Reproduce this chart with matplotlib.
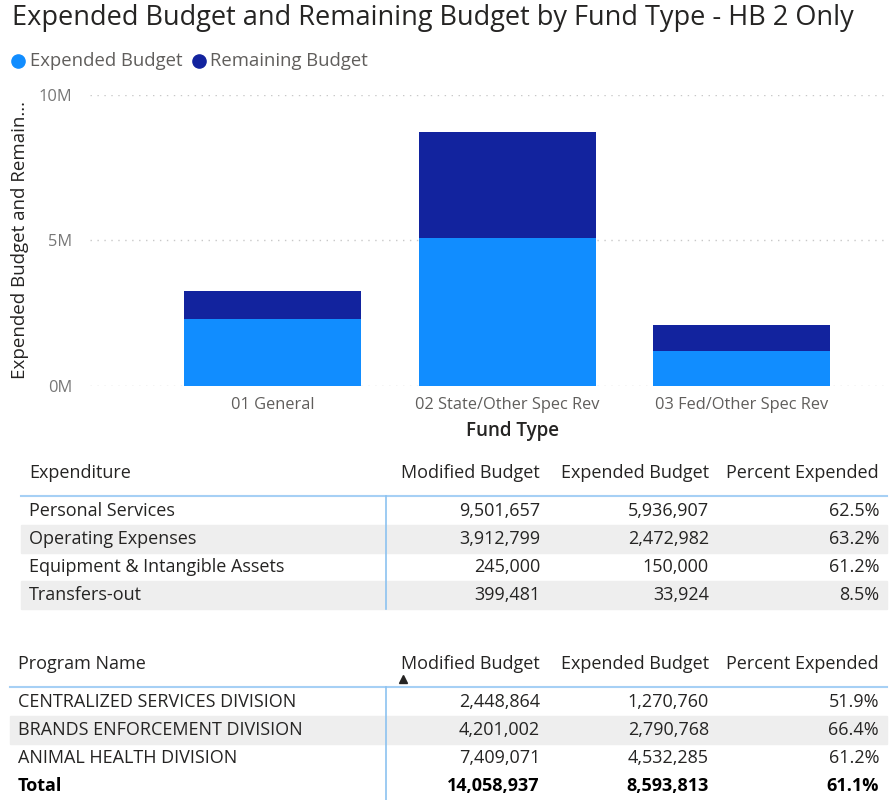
import numpy as np
import matplotlib
matplotlib.use("Agg")
import matplotlib.pyplot as plt
from matplotlib.patches import Rectangle
from matplotlib.lines import Line2D

plt.rcParams["font.family"] = ["Open Sans", "DejaVu Sans"]

# Chart data (millions)
fund_types = ["01 General", "02 State/Other Spec Rev", "03 Fed/Other Spec Rev"]
expended = [2.30, 5.09, 1.21]
remaining = [0.96, 3.64, 0.88]
series_names = ["Expended Budget", "Remaining Budget"]
yticks = [0, 5, 10]
ytick_labels = ["0M", "5M", "10M"]

# Expenditure table
exp_cols = ["Expenditure", "Modified Budget", "Expended Budget", "Percent Expended"]
exp_names = ["Personal Services", "Operating Expenses",
             "Equipment & Intangible Assets", "Transfers-out"]
exp_modified = ["9,501,657", "3,912,799", "245,000", "399,481"]
exp_expended = ["5,936,907", "2,472,982", "150,000", "33,924"]
exp_pct = ["62.5%", "63.2%", "61.2%", "8.5%"]

# Program table
prog_cols = ["Program Name", "Modified Budget", "Expended Budget", "Percent Expended"]
prog_names = ["CENTRALIZED SERVICES DIVISION", "BRANDS ENFORCEMENT DIVISION",
              "ANIMAL HEALTH DIVISION"]
prog_modified = ["2,448,864", "4,201,002", "7,409,071"]
prog_expended = ["1,270,760", "2,790,768", "4,532,285"]
prog_pct = ["51.9%", "66.4%", "61.2%"]
total_row = ["Total", "14,058,937", "8,593,813", "61.1%"]

c_exp = "#118DFF"
c_rem = "#12239E"
dark = "#252423"
grey = "#605E5C"

W, H = 891, 800
fig = plt.figure(figsize=(W / 100, H / 100), dpi=100)

# Bar chart
ax = fig.add_axes([90 / W, (H - 386) / H, (887 - 90) / W, (386 - 94.7) / H])
x = np.arange(len(fund_types))
ax.bar(x, expended, width=0.755, color=c_exp, zorder=2)
ax.bar(x, remaining, width=0.755, bottom=expended, color=c_rem, zorder=2)
ax.set_ylim(0, 10)
ax.set_xlim(-0.78, 2.62)
ax.set_yticks(yticks)
ax.set_yticklabels(ytick_labels, color="#777777", fontsize=11.8)
ax.set_xticks(x)
ax.set_xticklabels(fund_types, color=grey, fontsize=11.8)
ax.tick_params(length=0)
ax.tick_params(axis="x", pad=8)
ax.tick_params(axis="y", pad=13)
ax.grid(axis="y", color="#c8c8c8", linestyle=(0, (1, 4)), linewidth=1, zorder=0)
for s in ax.spines.values():
    s.set_visible(False)
ax.set_xlabel("Fund Type", color=dark, fontsize=13.5, fontweight="semibold")
ax.xaxis.set_label_coords((513 - 90) / (887 - 90), -(421 - 386) / (386 - 94.7))
ax.set_ylabel("Expended Budget and Remain...", color=dark, fontsize=13.5)
ax.yaxis.set_label_coords(-(90 - 29) / (887 - 90), 0.5)

# overlay in pixel coordinates for title, legend and tables
ov = fig.add_axes([0, 0, 1, 1], zorder=-1)
ov.set_xlim(0, W)
ov.set_ylim(H, 0)
ov.axis("off")

ov.text(12, 18, "Expended Budget and Remaining Budget by Fund Type - HB 2 Only",
        fontsize=19.5, color=dark, va="center", ha="left")

lx = 18
for name, col in zip(series_names, [c_exp, c_rem]):
    ov.plot(lx, 61, "o", color=col, markersize=9.5)
    t = ov.text(lx + 12, 61, name, fontsize=13.3, color=grey, va="center", ha="left")
    fig.canvas.draw()
    bb = t.get_window_extent()
    lx = bb.x1 + 16

col_right = [540, 709, 879]
row_h = 28
fs = 13


def draw_table(top_line, left, text_x, cols, names, c1, c2, c3, shaded, total=None,
               arrow=False):
    ov.text(text_x, top_line - 23, cols[0], fontsize=fs, color=dark, va="center")
    for cx, lab in zip(col_right, cols[1:]):
        ov.text(cx, top_line - 23, lab, fontsize=fs, color=dark, va="center", ha="right")
    if arrow:
        ov.plot(403, top_line - 8, marker="^", color=dark, markersize=6)
    nrows = len(names) + (1 if total else 0)
    for i, (n, a, b, c) in enumerate(zip(names, c1, c2, c3)):
        y0 = top_line + 1 + i * row_h
        if i in shaded:
            ov.add_patch(Rectangle((left, y0), 887 - left, row_h, color="#eeeeee", zorder=0))
        yc = y0 + row_h / 2
        ov.text(text_x, yc, n, fontsize=fs, color=dark, va="center")
        for cx, v in zip(col_right, [a, b, c]):
            ov.text(cx, yc, v, fontsize=fs, color=dark, va="center", ha="right")
    if total:
        yc = top_line + 1 + len(names) * row_h + row_h / 2
        ov.text(text_x, yc, total[0], fontsize=fs, color="black", va="center",
                fontweight="bold")
        for cx, v in zip(col_right, total[1:]):
            ov.text(cx, yc, v, fontsize=fs, color="black", va="center", ha="right",
                    fontweight="bold")
    ov.add_line(Line2D([left, 887], [top_line, top_line], color="#a6d0f5", lw=1.5))
    ov.add_line(Line2D([386, 386], [top_line, top_line + 1 + nrows * row_h],
                       color="#8cc2f0", lw=1.2))


draw_table(496, 21, 29, exp_cols, exp_names, exp_modified, exp_expended, exp_pct,
           shaded=[1, 3])
draw_table(687, 10, 18, prog_cols, prog_names, prog_modified, prog_expended, prog_pct,
           shaded=[1], total=total_row, arrow=True)

fig.savefig("out.png", dpi=100)
